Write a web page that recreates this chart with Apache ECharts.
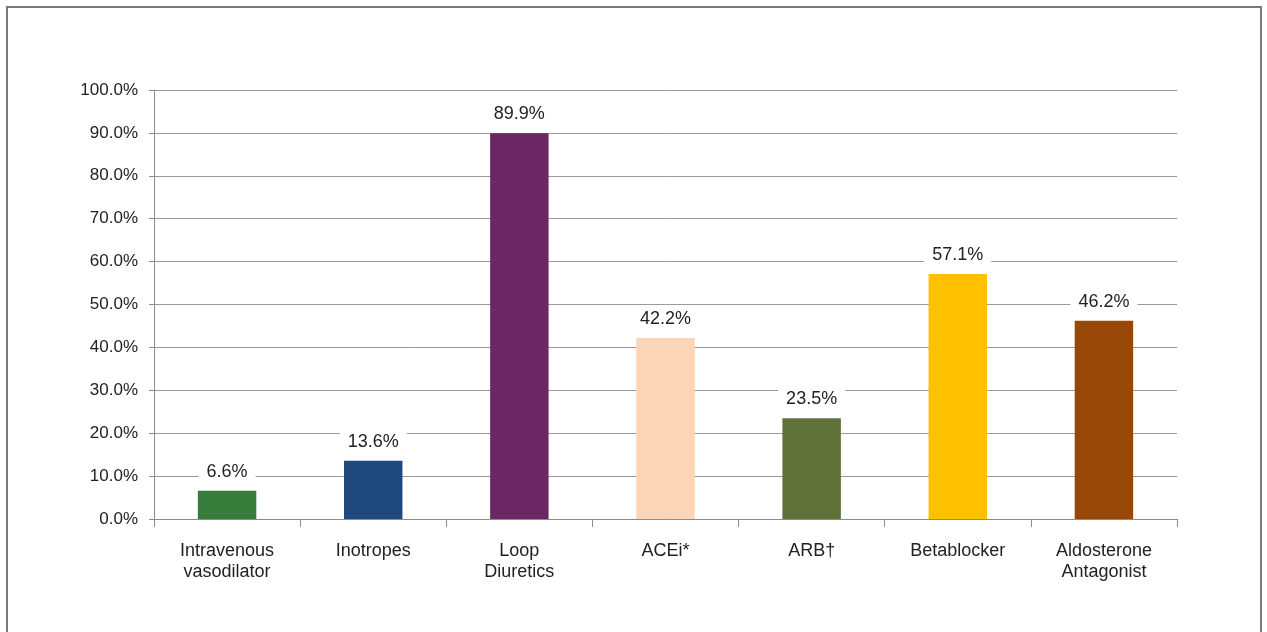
<!DOCTYPE html>
<html>
<head>
<meta charset="utf-8">
<script src="https://cdn.jsdelivr.net/npm/echarts@6/dist/echarts.min.js"></script>
<style>
html,body{margin:0;padding:0;background:#fff;}
#c{width:1267px;height:632px;}
</style>
</head>
<body>
<div id="c"></div>
<script>
const categories = ['Intravenous\nvasodilator', 'Inotropes', 'Loop\nDiuretics', 'ACEi*', 'ARB†', 'Betablocker', 'Aldosterone\nAntagonist'];
const values = [6.6, 13.6, 89.9, 42.2, 23.5, 57.1, 46.2];
const barColors = ['#367D3B', '#1F497D', '#6B2763', '#FBD5B5', '#5F7039', '#FFC000', '#974806'];
const yTicks = { min: 0, max: 100, interval: 10 };

const chart = echarts.init(document.getElementById('c'), null, { renderer: 'canvas' });
const font = 'Liberation Sans, Arial, sans-serif';
chart.setOption({
  backgroundColor: '#fff',
  animation: false,
  graphic: [{
    type: 'rect',
    shape: { x: 7, y: 7, width: 1254, height: 640 },
    style: { fill: 'none', stroke: '#7a7a7a', lineWidth: 2 },
    silent: true
  }],
  grid: { left: 154, right: 90, top: 90, bottom: 113 },
  xAxis: {
    type: 'category',
    data: categories,
    boundaryGap: true,
    axisLine: { lineStyle: { color: '#8c8c8c', width: 1 } },
    axisTick: { show: true, interval: 0, length: 8, lineStyle: { color: '#8c8c8c' } },
    axisLabel: { interval: 0, fontSize: 18, lineHeight: 21, color: '#222', fontFamily: font, margin: 22 }
  },
  yAxis: {
    type: 'value',
    min: yTicks.min, max: yTicks.max, interval: yTicks.interval,
    axisLine: { show: true, lineStyle: { color: '#8c8c8c', width: 1 } },
    axisTick: { show: true, length: 5, lineStyle: { color: '#8c8c8c' } },
    splitLine: { lineStyle: { color: '#999', width: 1 } },
    axisLabel: {
      fontSize: 17, color: '#222', fontFamily: font, margin: 16,
      formatter: v => v.toFixed(1) + '%'
    }
  },
  series: [{
    type: 'bar',
    data: values.map((v, i) => ({ value: v, itemStyle: { color: barColors[i] } })),
    barWidth: '40%',
    label: {
      show: true, position: 'top', distance: 8,
      formatter: p => p.value.toFixed(1) + '%',
      fontSize: 18, color: '#222', fontFamily: font,
      backgroundColor: '#fff', padding: [2, 8]
    }
  }]
});
</script>
</body>
</html>
